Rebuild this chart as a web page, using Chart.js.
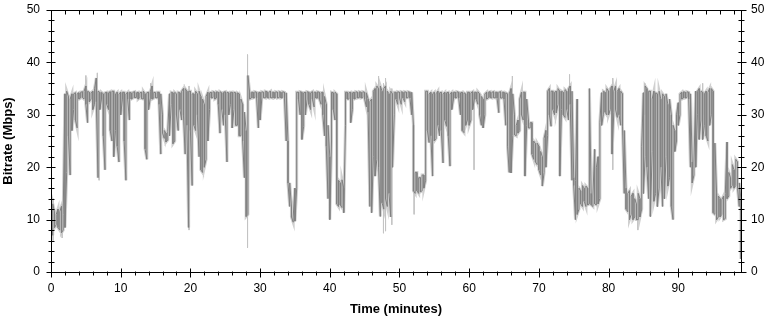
<!DOCTYPE html>
<html>
<head>
<meta charset="utf-8">
<title>Bitrate over time</title>
<script src="https://cdn.jsdelivr.net/npm/chart.js@4.4.1/dist/chart.umd.min.js"></script>
<style>
    html, body { margin: 0; padding: 0; background: #fff; }
    #wrap { width: 773px; height: 321px; }
</style>
</head>
<body>
<div id="wrap"><canvas id="bitrateChart" width="773" height="321"></canvas></div>
<script>
// one sample every quarter minute
const STEP = 0.25;

// upper edge of the trace per sample (Mbps), one row per minute
const bitrateHigh = [
    11, 13, 11.5, 11,
    12, 11.5, 12.5, 11,
    34, 34.5, 33.5, 33,
    34, 34, 34.2, 34,
    34.2, 34.3, 34.4, 34.5,
    35.5, 34.5, 34.3, 34.2,
    34.5, 35, 37, 34.5,
    34.3, 34.3, 34, 34.2,
    34.3, 34.2, 34.4, 34.5,
    34.5, 34, 34.3, 34,
    34.3, 34.3, 34.3, 34,
    34.3, 34.3, 34.2, 34.3,
    34.4, 34.2, 34.3, 34.2,
    34.3, 34.5, 34, 34.2,
    34.3, 34.4, 35.5, 34.3,
    34.2, 34.3, 34.3, 34,
    30, 27, 26.5, 26.8,
    34, 34.3, 34.2, 34.3,
    34, 34.3, 34.2, 34.5,
    35, 35, 34.5, 34.5,
    34.5, 34, 34, 34.5,
    34, 34.5, 33.5, 33,
    32, 33.5, 34.3, 34.2,
    34.3, 34.4, 34.3, 34.4,
    34.3, 34.4, 34.2, 34.3,
    34.4, 34.3, 34.2, 34.3,
    34.3, 34.3, 34.2, 34.2,
    34, 33, 32, 30.5,
    27, 37.5, 34.3, 34.3,
    34.3, 34.4, 34.3, 34.2,
    34.3, 34.4, 34.3, 34.5,
    34.4, 34.3, 34.5, 34.3,
    34.3, 34.4, 34.3, 34.4,
    34.3, 34.4, 34.3, 34.2,
    25, 17, 12.5, 10.5,
    16, 34.3, 34.3, 34.4,
    34.3, 34.2, 34.3, 34.4,
    34.3, 34.2, 34.4, 34.3,
    34.3, 34.4, 34.3, 34.2,
    34.3, 33.5, 32, 28,
    22, 34.3, 34.2, 34.3,
    34, 17.5, 17, 17.6,
    16, 34.3, 34.3, 34.2,
    34.3, 34.2, 34.3, 34.4,
    34.3, 34.4, 34.3, 34.4,
    34.3, 34.2, 33, 32.5,
    33, 34.5, 35, 35.5,
    35, 35.5, 34.5, 35,
    35.5, 34.5, 34, 34.5,
    34, 34.3, 34.3, 34.4,
    34.3, 34.4, 34.3, 34.4,
    34.3, 34.4, 34.3, 34.3,
    28, 19, 19, 18,
    18, 18.5, 18.5, 34.5,
    34.5, 34, 34.3, 34,
    34.3, 34, 34.5, 34.2,
    34.3, 34, 34.3, 34.2,
    34.3, 34, 34.3, 34.3,
    34.3, 34.4, 34.3, 34.2,
    34.3, 34.2, 34, 34.3,
    34.3, 34.2, 34.4, 34.3,
    34.3, 34.4, 34, 33.5,
    33, 34, 34.3, 34.3,
    34.4, 34.3, 34.4, 34.3,
    34.3, 34.3, 34.4, 34.3,
    34.3, 34.2, 34, 34,
    35, 34, 30, 28,
    29, 33, 34.3, 34.3,
    34.3, 33, 29, 28.5,
    28.5, 25, 24.5, 24.6,
    24, 23, 22, 25.5,
    27, 34.5, 35, 34.5,
    34.5, 34.3, 34.5, 35,
    34.5, 34.5, 34.3, 34.8,
    34.5, 35, 35.5, 34.5,
    18, 17.5, 33, 16,
    15.5, 16.5, 16, 16.4,
    16, 35, 15, 14.5,
    23.4, 20, 22, 28.5,
    34.2, 34.5, 34.3, 35,
    34.5, 35, 35.5, 34.5,
    35.5, 34.5, 35, 34.5,
    34, 27, 16, 15,
    15.5, 14.5, 15, 14,
    13, 15, 14, 24,
    34.2, 35.5, 35, 34.5,
    34.5, 33, 34.5, 34.2,
    34, 34.5, 33, 34,
    33.5, 34, 32, 33,
    30, 28, 27, 30,
    32.3, 34, 34.3, 34.4,
    34.3, 34.4, 34.3, 34,
    21, 21, 34.5, 34.5,
    35, 34.5, 34.3, 34,
    34.5, 34.3, 35, 35,
    34.5, 24.6, 15, 14.5,
    14, 13.8, 14.5, 15,
    24.8, 19, 18, 20.5,
    19.5, 21.5, 21, 17,
    13.8
];

// lower edge of the trace per sample (Mbps)
const bitrateLow = [
    9, 7, 8.5, 9,
    8.5, 8, 7.5, 8,
    8.5, 19, 26, 18.5,
    27, 31, 29, 27.5,
    33, 33.2, 33.3, 33,
    32, 28.5, 32.5, 33,
    31, 32, 32.5, 18,
    31, 33, 26, 19.5,
    32, 31, 27, 25,
    22, 27, 24, 21,
    30, 33, 25, 17.5,
    33, 29, 33, 33.2,
    33.3, 33.3, 33, 33.3,
    33.1, 33, 23.5, 21.5,
    31, 33.2, 33, 33.2,
    33.3, 33.2, 32, 22.5,
    26.5, 25.5, 24.8, 25.2,
    26, 32, 24.5, 25,
    30, 27, 31, 29,
    30, 22.5, 28, 8.5,
    27, 16.5, 28, 27,
    30, 22, 19.5, 19,
    20, 21.5, 25, 31,
    33.2, 33.3, 33, 33.2,
    32, 26.5, 31, 28,
    30, 21, 30, 32,
    27.5, 31, 28, 28,
    26, 26, 25, 18,
    10.6, 11, 33, 33.2,
    33.2, 33.3, 33.2, 27.5,
    29, 33.2, 33.3, 33.2,
    33.3, 33.2, 33.3, 33.2,
    33.2, 33.3, 33.2, 33.3,
    33.2, 33.3, 33.1, 25,
    17, 12.5, 10.5, 9.5,
    9.7, 16, 33, 30,
    25.3, 27.8, 30, 33,
    32, 31, 33, 31.5,
    33.2, 33.2, 33, 32,
    30, 26, 24, 14,
    10, 25, 31, 29,
    13, 12.5, 12.8, 12.3,
    11.3, 28, 33, 33,
    28.5, 31, 33, 33.2,
    33.2, 33.3, 33.2, 33.3,
    33, 31.5, 30.5, 12.5,
    11.3, 22, 18.3, 21.5,
    20, 10.6, 13.2, 12,
    14, 12.5, 15, 10.5,
    20, 30, 33, 32,
    33.2, 32, 33.2, 32.5,
    33.2, 33.3, 33.2, 30,
    15.5, 15, 15.5, 15,
    15.3, 15.5, 16, 17.5,
    27, 24.7, 26, 18.3,
    25, 25.5, 28, 26,
    27, 20.8, 29, 27.8,
    26, 20.2, 31, 33,
    33.2, 33.3, 33.2, 30,
    27, 26.6, 28, 29,
    28, 29, 31, 33,
    33, 32, 30, 28,
    27.5, 30, 33, 33.2,
    33.3, 33.2, 33.3, 33.2,
    33.2, 30.4, 33.2, 33.2,
    33, 28, 24, 19,
    18.9, 26, 26.2, 26,
    26.5, 27, 30, 29,
    18.3, 28, 27.5, 27.5,
    22.5, 21.5, 21, 20.5,
    19.5, 18.5, 16.4, 19,
    20, 26, 30, 27.8,
    31, 30, 30.4, 32,
    18.3, 31, 30, 29.5,
    31, 29, 32, 17.5,
    16.5, 10, 11, 12,
    13, 12.5, 13.5, 12.5,
    12.8, 13, 12.8, 12.5,
    13, 12.8, 13, 14,
    28, 30, 30.5, 30,
    30, 31, 22.5, 30.5,
    31, 29.5, 30, 28,
    27.8, 15, 12, 11.5,
    10, 11, 10, 10.5,
    10, 10, 10.5, 12,
    15, 22, 20, 14,
    10.6, 23, 13.5, 15,
    12.5, 16, 20, 12.5,
    14, 22, 16.4, 18,
    12.5, 10, 23, 25,
    28, 30, 33, 33.2,
    33.2, 33.3, 33, 20,
    17, 18.5, 20, 30,
    25.3, 29, 25.3, 28,
    26, 25, 28, 30,
    11.3, 11, 10, 10.5,
    10.5, 11, 10, 10.2,
    14, 14.5, 16, 16.5,
    16, 16.5, 16, 12.5,
    2.5
];

// single light grey peaks: time (min), top and bottom (Mbps)
const spikeTimes   = [0.3, 1.6, 5.0, 6.65, 6.9, 14.3, 19.8, 28.2, 47.0, 47.7, 48.0, 48.9, 52.1, 60.7, 66.2, 74.4, 80.6, 84.2, 85.2, 93.5];
const spikeTops    = [14, 13, 37.5, 38, 34, 36, 35.5, 41.5, 37.4, 36, 37, 35, 28, 34, 37.4, 37.7, 37, 15, 36, 36];
const spikeBottoms = [6, 6.5, 32, 31, 17.5, 33, 8, 4.6, 20, 7.4, 7.8, 9, 11, 19.5, 30, 32, 19.5, 8, 30, 30];

const xTicks = [0, 10, 20, 30, 40, 50, 60, 70, 80, 90];
const yTicks = [0, 10, 20, 30, 40, 50];

const FONT = '"Liberation Sans", Arial, sans-serif';

function buildTrace() {
    const points = [];
    bitrateHigh.forEach((hi, i) => {
        const t = i * STEP;
        const lo = bitrateLow[i];
        // zig-zag so the trace fills the band between low and high
        if (i % 2 === 0) {
            points.push({ x: t, y: hi }, { x: t, y: lo });
        } else {
            points.push({ x: t, y: lo }, { x: t, y: hi });
        }
    });
    return points;
}

function buildSpikes() {
    const points = [];
    spikeTimes.forEach((t, i) => {
        points.push({ x: t, y: spikeTops[i] }, { x: t, y: spikeBottoms[i] }, { x: t, y: null });
    });
    return points;
}

// frame plus major/minor tick marks on all four sides
const frameTicks = {
    id: 'frameTicks',
    afterDatasetsDraw(chart) {
        const { ctx, chartArea: a, scales } = chart;
        const L = Math.round(a.left) + 0.5;
        const R = Math.round(a.right) + 0.5;
        const T = Math.round(a.top) + 0.5;
        const B = Math.round(a.bottom) + 0.5;
        ctx.save();
        ctx.strokeStyle = '#000';
        ctx.lineWidth = 1;
        ctx.beginPath();
        ctx.rect(L, T, R - L, B - T);
        for (let m = 0; m <= 98; m += 2) {
            const px = Math.round(scales.x.getPixelForValue(m)) + 0.5;
            const major = m % 10 === 0;
            ctx.moveTo(px, B - (major ? 4 : 1));
            ctx.lineTo(px, B + (major ? 5 : 3));
            ctx.moveTo(px, T);
            ctx.lineTo(px, T + (major ? 5 : 4));
        }
        for (let v = 0; v <= 50; v += 2) {
            const py = Math.round(scales.y.getPixelForValue(v)) + 0.5;
            const major = v % 10 === 0;
            ctx.moveTo(L - (major ? 5 : 3), py);
            ctx.lineTo(L + (major ? 4 : 3), py);
            ctx.moveTo(R - (major ? 4 : 3), py);
            ctx.lineTo(R + (major ? 5 : 3), py);
        }
        ctx.stroke();
        ctx.restore();
    }
};

// fixed axis sizes; drop the label overhang Chart.js adds above/below vertical axes
function fixWidth(w) {
    return ax => {
        ax.width = w;
        ax.paddingTop = 0;
        ax.paddingBottom = 0;
    };
}

const tickFont = { family: FONT, size: 12 };
const titleFont = { family: FONT, size: 13, weight: 'bold' };

new Chart(document.getElementById('bitrateChart').getContext('2d'), {
    type: 'line',
    data: {
        datasets: [
            {
                data: buildTrace(),
                borderColor: '#808080',
                borderWidth: 1,
                pointRadius: 0,
                tension: 0,
                order: 1
            },
            {
                data: buildTrace(),
                borderColor: '#d0d0d0',
                borderWidth: 3,
                pointRadius: 0,
                tension: 0,
                order: 3
            },
            {
                data: buildSpikes(),
                borderColor: '#c4c4c4',
                borderWidth: 1,
                pointRadius: 0,
                spanGaps: false,
                order: 2
            }
        ]
    },
    options: {
        responsive: false,
        animation: false,
        parsing: false,
        layout: { padding: { top: 10, left: 0, right: 0, bottom: 0 } },
        plugins: {
            legend: { display: false },
            tooltip: { enabled: false }
        },
        scales: {
            x: {
                type: 'linear',
                position: 'bottom',
                min: 0,
                max: 99,
                afterBuildTicks: ax => { ax.ticks = xTicks.map(v => ({ value: v })); },
                afterFit: ax => { ax.height = 49; },
                grid: { display: false, drawTicks: false, tickLength: 0 },
                border: { display: false },
                ticks: { color: '#000', font: tickFont, padding: 9, maxRotation: 0 },
                title: { display: true, text: 'Time (minutes)', color: '#000', font: titleFont, padding: { top: 0, bottom: 4 } }
            },
            y: {
                type: 'linear',
                position: 'left',
                min: 0,
                max: 50,
                afterBuildTicks: ax => { ax.ticks = yTicks.map(v => ({ value: v })); },
                afterFit: fixWidth(51),
                grid: { display: false, drawTicks: false, tickLength: 0 },
                border: { display: false },
                ticks: { color: '#000', font: tickFont, padding: 11 },
                title: { display: true, text: 'Bitrate (Mbps)', color: '#000', font: titleFont, padding: { top: 1, bottom: 0 } }
            },
            y2: {
                type: 'linear',
                position: 'right',
                min: 0,
                max: 50,
                afterBuildTicks: ax => { ax.ticks = yTicks.map(v => ({ value: v })); },
                afterFit: fixWidth(32),
                grid: { display: false, drawTicks: false, tickLength: 0 },
                border: { display: false },
                ticks: { color: '#000', font: tickFont, padding: 10 }
            }
        }
    },
    plugins: [frameTicks]
});
</script>
</body>
</html>
